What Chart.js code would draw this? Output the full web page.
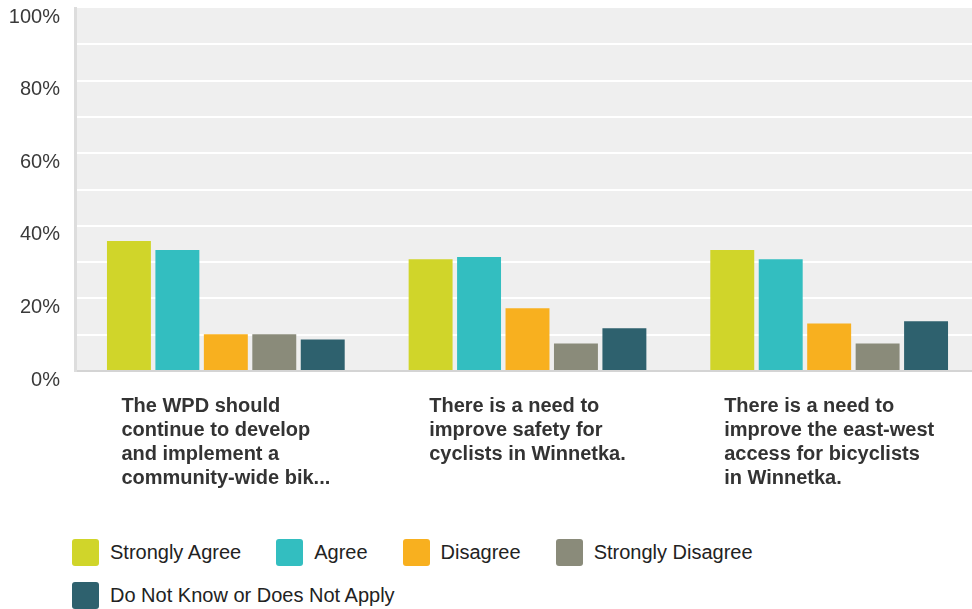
<!DOCTYPE html>
<html>
<head>
<meta charset="utf-8">
<script src="https://cdn.jsdelivr.net/npm/chart.js@4.4.1/dist/chart.umd.min.js"></script>
<style>
  html, body { margin: 0; background: #fff; font-family: "Liberation Sans", Arial, sans-serif; overflow: hidden; }
  #wrap { position: relative; width: 972px; height: 609px; overflow: hidden; }
  #chart { position: absolute; left: 0; top: 0; }
  #legend { position: absolute; left: 72px; top: 539px; width: 880px; display: flex; flex-wrap: wrap; row-gap: 16px; }
  .item { display: flex; align-items: center; margin-right: 35px; font-size: 20px; color: #222; height: 27px; }
  .swatch { width: 27px; height: 27px; border-radius: 3px; margin-right: 11px; }
</style>
</head>
<body>
<div id="wrap">
  <canvas id="chart" width="980" height="531"></canvas>
  <div id="legend"></div>
</div>
<script>
const categories = [
  ['The WPD should', 'continue to develop', 'and implement a', 'community-wide bik...'],
  ['There is a need to', 'improve safety for', 'cyclists in Winnetka.'],
  ['There is a need to', 'improve the east-west', 'access for bicyclists', 'in Winnetka.']
];
const seriesNames = ['Strongly Agree', 'Agree', 'Disagree', 'Strongly Disagree', 'Do Not Know or Does Not Apply'];
const seriesColors = ['#d0d52a', '#33bec0', '#f8b01f', '#8a8b7a', '#2e616e'];
const stronglyAgree = [35.8, 30.8, 33.3];
const agree = [33.3, 31.4, 30.8];
const disagree = [10.1, 17.3, 13.1];
const stronglyDisagree = [10.1, 7.6, 7.6];
const doNotKnow = [8.7, 11.8, 13.7];
const yMin = 0, yMax = 100, gridStep = 10, labelStep = 20;

const seriesValues = [stronglyAgree, agree, disagree, stronglyDisagree, doNotKnow];

// grey plot background
const plotBg = {
  id: 'plotBg',
  beforeDraw(chart) {
    const { ctx, chartArea: a } = chart;
    ctx.save();
    ctx.fillStyle = '#efefef';
    ctx.fillRect(a.left, a.top, a.right - a.left, a.bottom - a.top);
    ctx.restore();
  }
};

// category labels: block centred under the group, lines left-aligned
const catLabels = {
  id: 'catLabels',
  afterDraw(chart) {
    const { ctx, chartArea: a } = chart;
    const xs = chart.scales.x;
    ctx.save();
    ctx.font = 'bold 20px "Liberation Sans", Arial, sans-serif';
    ctx.fillStyle = '#333';
    ctx.textBaseline = 'middle';
    ctx.textAlign = 'left';
    categories.forEach((lines, i) => {
      const cx = xs.getPixelForValue(i);
      const w = Math.max(...lines.map(l => ctx.measureText(l).width));
      lines.forEach((l, k) => ctx.fillText(l, cx - w / 2, a.bottom + 35 + k * 24));
    });
    ctx.restore();
  }
};

new Chart(document.getElementById('chart'), {
  type: 'bar',
  data: {
    labels: categories,
    datasets: seriesNames.map((name, i) => ({
      label: name,
      data: seriesValues[i],
      backgroundColor: seriesColors[i],
      borderWidth: 0,
      categoryPercentage: 0.803,
      barPercentage: 0.907
    }))
  },
  options: {
    responsive: false,
    animation: false,
    layout: { padding: { top: 8, right: 0, left: 0, bottom: 0 } },
    plugins: { legend: { display: false }, tooltip: { enabled: false } },
    scales: {
      x: {
        ticks: { display: false },
        grid: { display: false },
        border: { display: true, color: '#d4d4d4', width: 2 },
        afterFit(s) { s.height = 160; s.paddingLeft = 0; s.paddingRight = 0; }
      },
      y: {
        min: yMin,
        max: yMax,
        ticks: {
          stepSize: gridStep,
          padding: 15,
          labelOffset: 9,
          color: '#3a3a3a',
          font: { family: '"Liberation Sans", Arial, sans-serif', size: 20 },
          callback: v => (v % labelStep === 0 ? v + '%' : '')
        },
        grid: {
          color: ctx => (ctx.tick && ctx.tick.value === yMax ? 'rgba(0,0,0,0)' : '#ffffff'),
          lineWidth: 2,
          drawTicks: false
        },
        border: { display: true, color: '#dddddd', width: 3 },
        afterFit(s) { s.width = 75; s.paddingTop = 0; s.paddingBottom = 0; }
      }
    }
  },
  plugins: [plotBg, catLabels]
});

const legend = document.getElementById('legend');
seriesNames.forEach((name, i) => {
  const item = document.createElement('div');
  item.className = 'item';
  item.innerHTML = `<div class="swatch" style="background:${seriesColors[i]}"></div><span>${name}</span>`;
  legend.appendChild(item);
});
</script>
</body>
</html>
